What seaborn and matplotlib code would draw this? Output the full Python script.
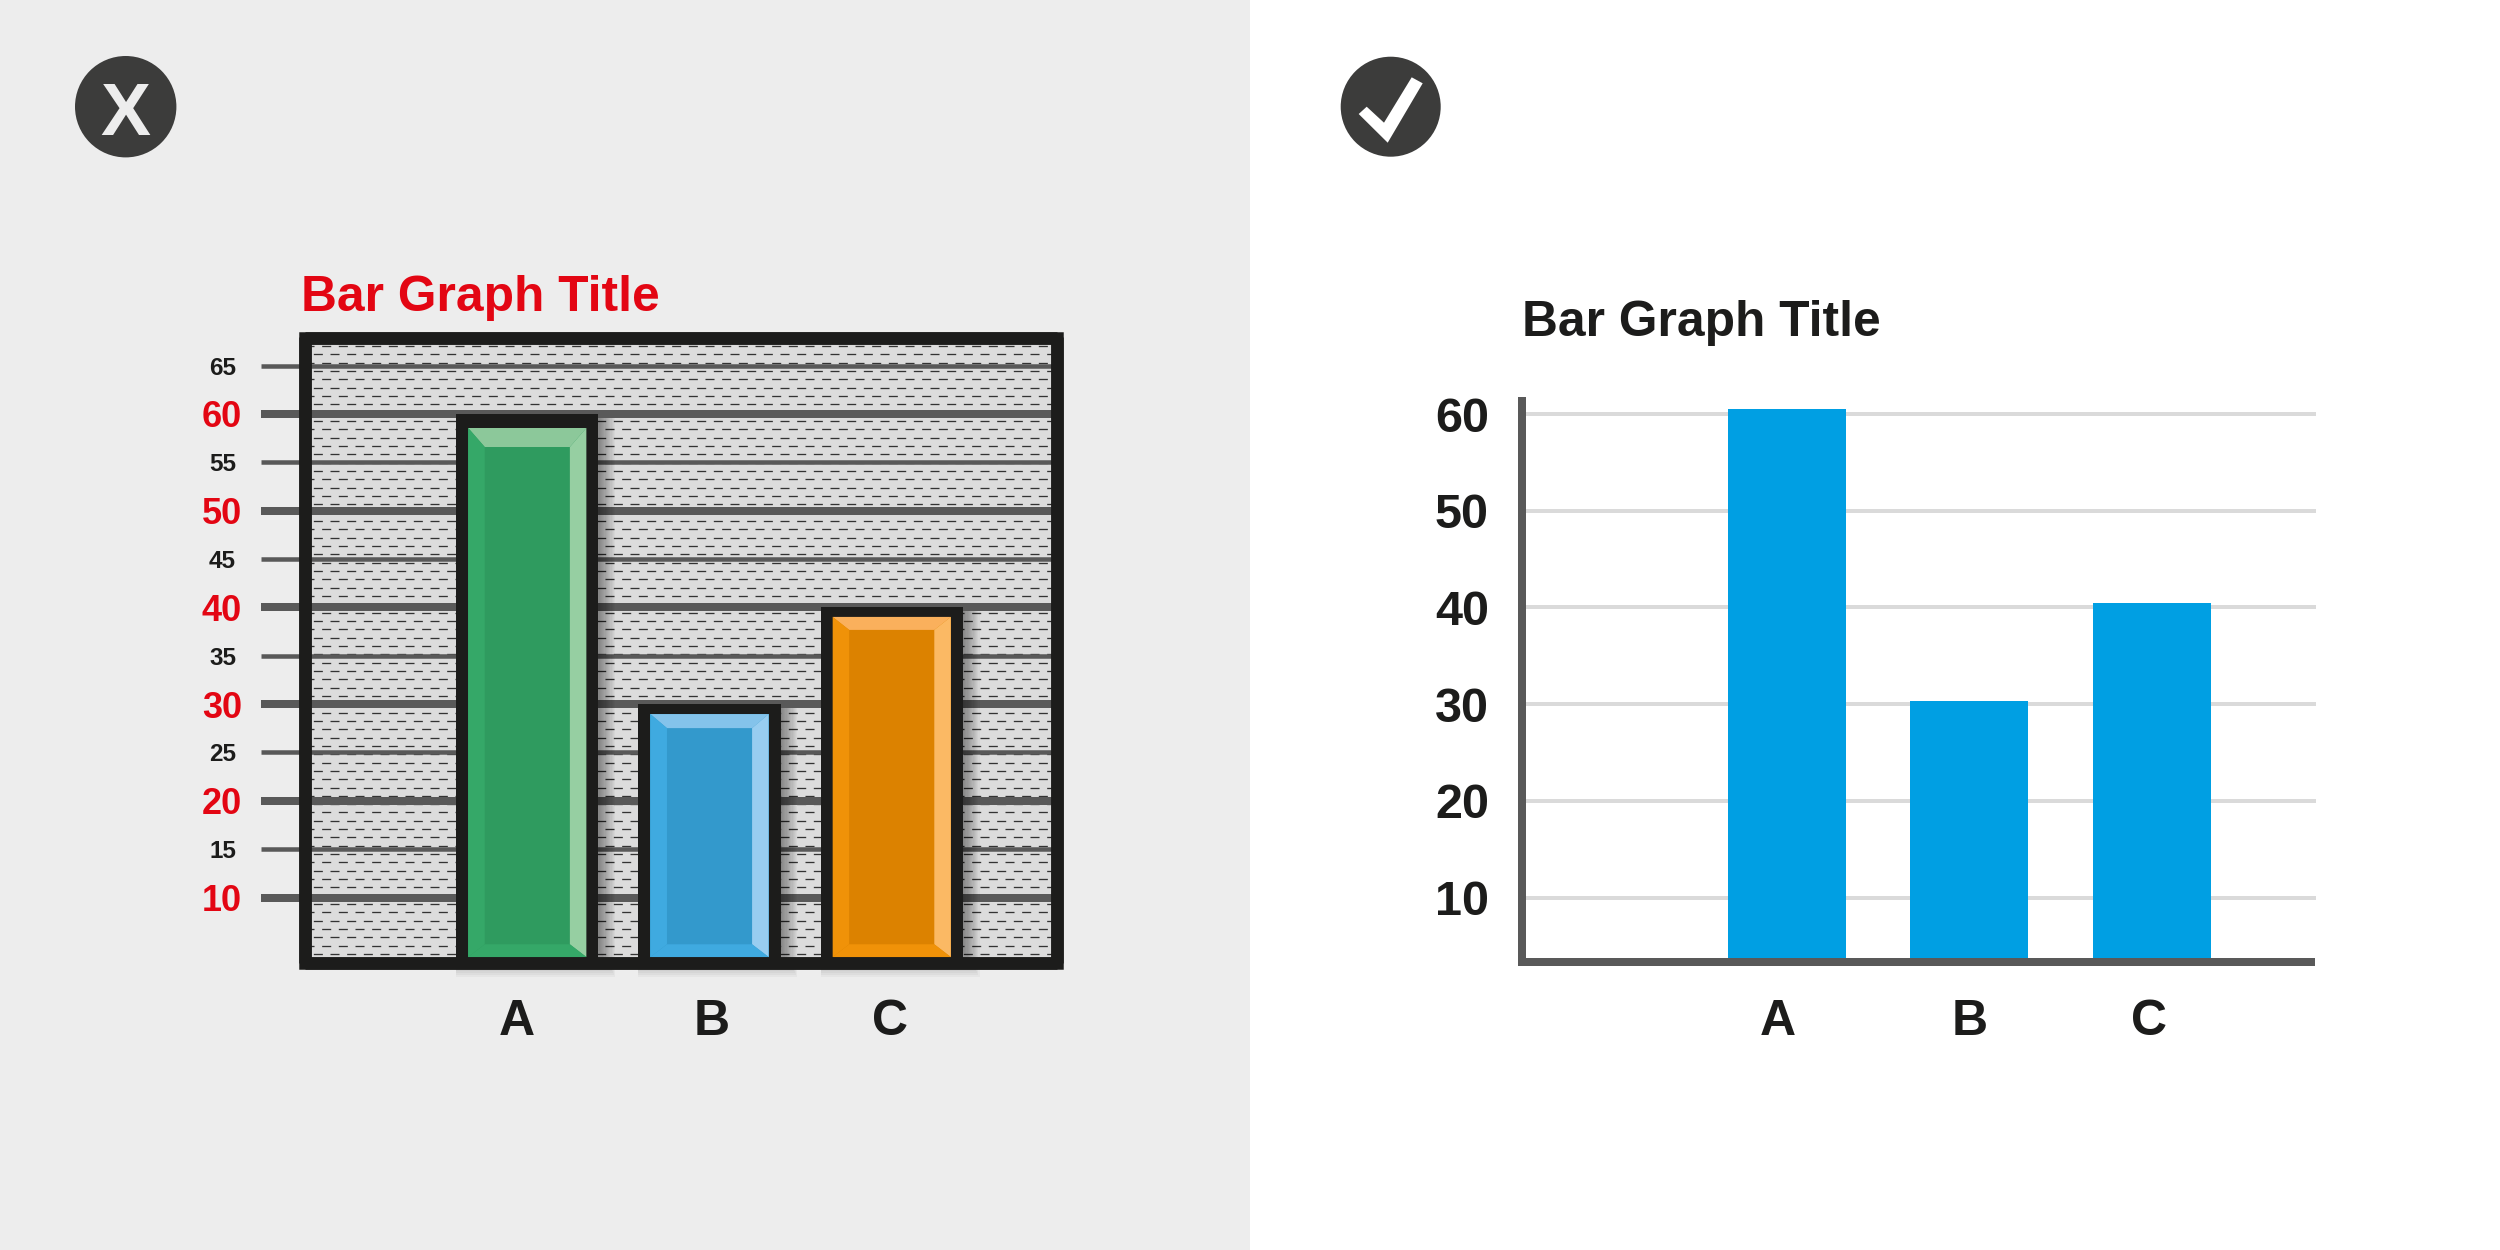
import numpy as np
import pandas as pd
import matplotlib
matplotlib.use("Agg")
import matplotlib.pyplot as plt
from matplotlib.patches import Rectangle, Circle, Polygon
from matplotlib.transforms import ScaledTranslation
import seaborn as sns

categories = ["A", "B", "C"]
bad_values = [60, 30, 40]
good_values = [60.5, 30.35, 40.45]
bad_colors = ["#2F9B5F", "#3399CC", "#DC8200"]
good_color = "#009FE3"
major_ticks = [10, 20, 30, 40, 50, 60]
minor_ticks = [15, 25, 35, 45, 55, 65]
title_text = "Bar Graph Title"

W, H = 2500, 1250
PT = 0.72  # points per pixel at dpi=100
INK = "#1C1C1B"
AXIS = "#595959"
RED = "#E30613"

sns.set_theme(style="white")
plt.rcParams["font.family"] = ["Liberation Sans", "DejaVu Sans"]
plt.rcParams["font.weight"] = "bold"
plt.rcParams["lines.scale_dashes"] = False

fig = plt.figure(figsize=(25, 12.5), dpi=100, facecolor="white")


def axes_px(x0, y0, x1, y1, **kw):
    """Axes from pixel box (y measured from the top of the image)."""
    return fig.add_axes([x0 / W, 1 - y1 / H, (x1 - x0) / W, (y1 - y0) / H], **kw)


# ---------- page layer ----------
page = axes_px(0, 0, W, H, zorder=0)
page.set_xlim(0, W)
page.set_ylim(H, 0)
page.axis("off")
page.add_patch(Rectangle((0, 0), 1250, H, fc="#EDEDED", ec="none"))
page.add_patch(Circle((125.7, 106.7), 50.7, fc="#3C3C3B", ec="none"))
page.text(125.7, 135, "X", color="#EDEDED", fontsize=54, ha="center", va="baseline")
page.add_patch(Circle((1390.7, 106.7), 50, fc="#3C3C3B", ec="none"))
page.add_patch(Polygon([(1358.7, 114), (1366.7, 106.7), (1384, 122.7), (1411.7, 77.3),
                        (1422.7, 83.3), (1387.7, 142.7)], fc="white", ec="none"))
page.text(301, 311, title_text, color=RED, fontsize=35.8, ha="left", va="baseline")
page.text(1522, 336, title_text, color=INK, fontsize=35.8, ha="left", va="baseline")

# ---------- left ("bad") chart ----------
ax = axes_px(305, 337.5, 1057, 963, zorder=1)
df_bad = pd.DataFrame({"cat": categories, "val": bad_values})
sns.barplot(data=df_bad, x="cat", y="val", hue="cat", palette=bad_colors, legend=False,
            width=0.78, saturation=1, ax=ax, linewidth=0, zorder=2)
ax.set_xlim(-1.22, 2.907)
ax.set_ylim(3.23, 67.91)
ax.set_xlabel("")
ax.set_ylabel("")
ax.set_facecolor("#DCDCDC")
ax.set_axisbelow(True)

ax.set_yticks(major_ticks)
ax.set_yticks(minor_ticks, minor=True)
ax.set_yticklabels([str(t) for t in minor_ticks], minor=True)
ax.grid(True, axis="y", which="major", color=AXIS, lw=8 * PT)
ax.grid(True, axis="y", which="minor", color=AXIS, lw=4.5 * PT)
ax.grid(False, axis="x")
ax.tick_params(axis="y", which="major", left=True, length=44 * PT, width=8 * PT, color=AXIS,
               pad=19 * PT, labelsize=26, labelcolor=RED)
ax.tick_params(axis="y", which="minor", left=True, length=44 * PT, width=4.5 * PT, color=AXIS,
               pad=25 * PT, labelsize=17.5, labelcolor=INK)
ax.tick_params(axis="x", length=0, pad=36 * PT, labelsize=36, labelcolor=INK)
for s in ax.spines.values():
    s.set_linewidth(12.5 * PT)
    s.set_color(INK)
    s.set_capstyle("butt")
    s.set_zorder(6)
ax.add_patch(Rectangle((0, 0), 1, 1, transform=ax.transAxes, fc="none", ec=INK,
                       lw=12.5 * PT, joinstyle="miter", clip_on=False, zorder=6))

# dashed brick texture
row_px = 8.33
px_y = (ax.get_ylim()[1] - ax.get_ylim()[0]) / (963 - 337.5)
px_x = (ax.get_xlim()[1] - ax.get_xlim()[0]) / (1057 - 305)
rows = 67.03 - np.arange(0, 76) * row_px * px_y
for i, r in enumerate(rows):
    ax.plot(ax.get_xlim(), [r, r], color="#333333", lw=1.3 * PT, dash_capstyle="butt",
            linestyle=(0 if i % 2 == 0 else 6.0, (6.5, 5.5)), zorder=0.4)

# bar dressing: shadow, frame, bevels -- all derived from the seaborn bars
bevel_colors = [
    ("#8CC89A", "#35A868", "#96CFA2", "#35A868"),
    ("#84C3EB", "#3FAAE0", "#98CDF0", "#3FAAE0"),
    ("#FAB05C", "#F09208", "#FBB964", "#F09208"),
]
top_frame = [14, 10, 9.5]
top_bevel = [19, 14, 13]
bottom_y = ax.get_ylim()[0] + (963 - 957) * px_y
bars = [p for p in ax.patches if isinstance(p, Rectangle)][:3]
for bar, cols, tf, tb in zip(bars, bevel_colors, top_frame, top_bevel):
    x0, x1 = bar.get_x(), bar.get_x() + bar.get_width()
    top = bar.get_y() + bar.get_height()
    # soft drop shadow
    for k in range(1, 15):
        low = bottom_y - (12 + (k - 10) * 2) * px_y
        ax.add_patch(Rectangle((x0, low), (x1 - x0) + k * 1.2 * px_x, top - 4 * px_y - low,
                               fc="black", ec="none", alpha=0.03, zorder=1, clip_on=False))
    # dark frame
    ix0, ix1 = x0 + 12 * px_x, x1 - 12 * px_x
    itop = top - tf * px_y
    for box in [(x0, 0, ix0 - x0, top), (ix1, 0, x1 - ix1, top), (x0, itop, x1 - x0, top - itop)]:
        ax.add_patch(Rectangle((box[0], box[1]), box[2], box[3], fc=INK, ec="none", zorder=3))
    # bevels
    fx0, fx1 = ix0 + 16.5 * px_x, ix1 - 16.5 * px_x
    ftop = itop - tb * px_y
    fbot = bottom_y + 12.7 * px_y
    faces = [
        [(ix0, itop), (ix1, itop), (fx1, ftop), (fx0, ftop)],
        [(ix0, itop), (fx0, ftop), (fx0, fbot), (ix0, bottom_y)],
        [(ix1, itop), (fx1, ftop), (fx1, fbot), (ix1, bottom_y)],
        [(ix0, bottom_y), (fx0, fbot), (fx1, fbot), (ix1, bottom_y)],
    ]
    for verts, c in zip(faces, cols):
        ax.add_patch(Polygon(verts, fc=c, ec="none", zorder=3))

for lab, dx in zip(ax.get_xticklabels(), [-10, 2, -2]):
    lab.set_transform(lab.get_transform() + ScaledTranslation(dx * PT / 72, 0, fig.dpi_scale_trans))

# ---------- right ("good") chart ----------
ax2 = axes_px(1522, 397, 2316, 962, zorder=1)
ax2.patch.set_alpha(0)
df_good = pd.DataFrame({"cat": categories, "val": good_values})
sns.barplot(data=df_good, x="cat", y="val", color=good_color, width=0.647, saturation=1,
            ax=ax2, linewidth=0, zorder=2)
ax2.set_xlim(-1.452, 2.899)
ax2.set_ylim(3.33, 61.76)
ax2.set_xlabel("")
ax2.set_ylabel("")
ax2.set_axisbelow(True)
ax2.set_yticks(major_ticks)
ax2.grid(True, axis="y", color="#DADADA", lw=4 * PT)
ax2.grid(False, axis="x")
ax2.tick_params(axis="y", left=False, length=0, pad=33 * PT, labelsize=35, labelcolor=INK)
ax2.tick_params(axis="x", length=0, pad=37 * PT, labelsize=36, labelcolor=INK)
ax2.spines["top"].set_visible(False)
ax2.spines["right"].set_visible(False)
for s in ("left", "bottom"):
    ax2.spines[s].set_linewidth(8 * PT)
    ax2.spines[s].set_color(AXIS)
    ax2.spines[s].set_zorder(6)
# keep the square caps from overshooting the axis ends
ax2.spines["left"].set_bounds(3.33, 61.76 - 4 * (61.76 - 3.33) / (962 - 397))
ax2.spines["bottom"].set_bounds(-1.452, 2.899 - 5.3 * (2.899 + 1.452) / (2316 - 1522))
for lab, dx in zip(ax2.get_xticklabels(), [-9.5, 0, -3]):
    lab.set_transform(lab.get_transform() + ScaledTranslation(dx * PT / 72, 0, fig.dpi_scale_trans))

fig.savefig("out.png", dpi=100, facecolor="white")
